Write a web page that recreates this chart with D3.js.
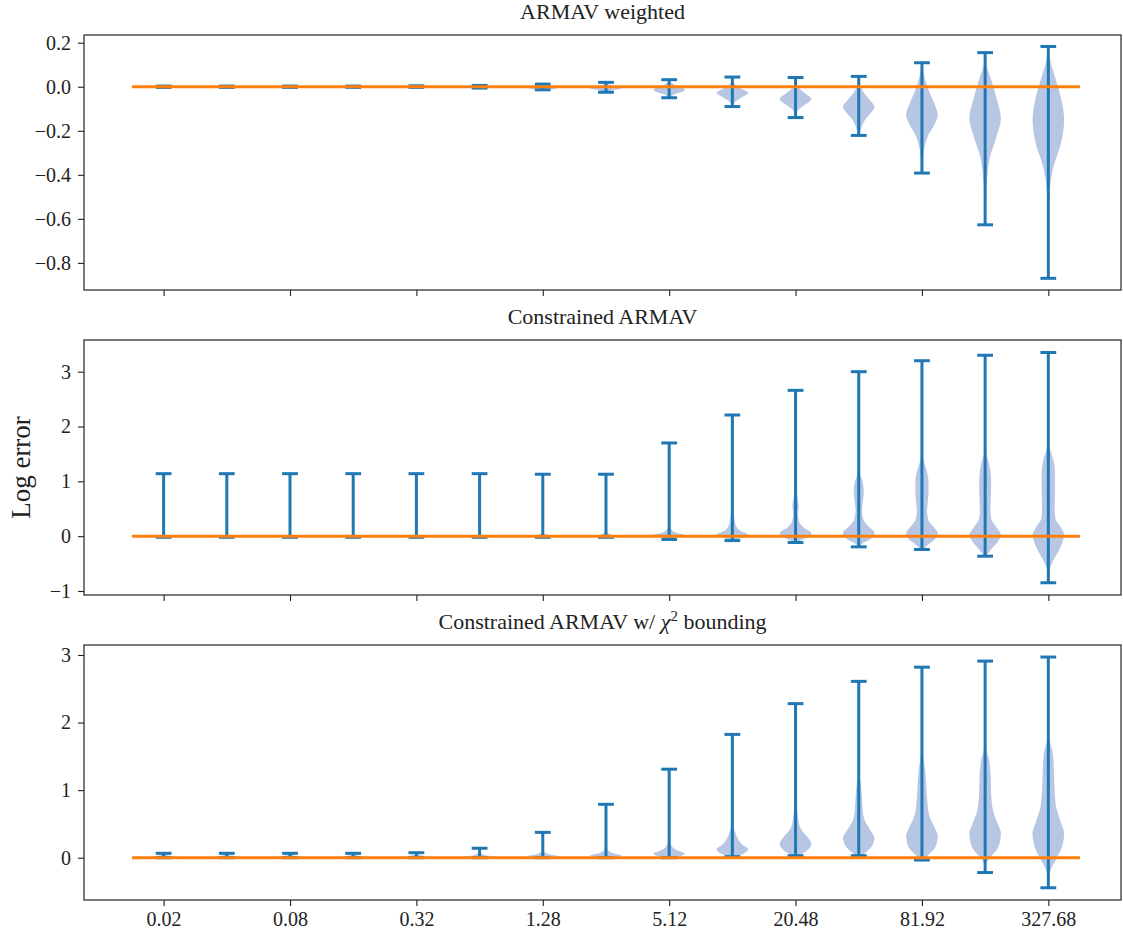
<!DOCTYPE html>
<html>
<head>
<meta charset="utf-8">
<script src="https://cdn.jsdelivr.net/npm/d3@7"></script>
<style>
  body { margin: 0; background: #fff; }
  svg text { font-family: "Liberation Serif", "DejaVu Serif", serif; fill: #222; }
</style>
</head>
<body>
<svg id="chart"></svg>
<script>
// sampling steps on the x axis, one violin each
const steps = [0.02, 0.04, 0.08, 0.16, 0.32, 0.64, 1.28, 2.56, 5.12, 10.24, 20.48, 40.96, 81.92, 163.84, 327.68]
const tickLabels = ["0.02", "0.08", "0.32", "1.28", "5.12", "20.48", "81.92", "327.68"]
const titles = ["ARMAV weighted", "Constrained ARMAV", "Constrained ARMAV w/ χ2 bounding"]

// panel 1 : ARMAV weighted
const weightedMin = [-0.003, -0.003, -0.003, -0.003, -0.003, -0.006, -0.014, -0.025, -0.05, -0.09, -0.14, -0.221, -0.392, -0.627, -0.87]
const weightedMax = [0.003, 0.003, 0.003, 0.003, 0.004, 0.006, 0.012, 0.02, 0.032, 0.044, 0.042, 0.047, 0.109, 0.155, 0.183]
// violin outlines: [value, relative half width]
const weightedShape = [
  [[-0.003, 0.3], [0, 1], [0.003, 0.3]],
  [[-0.003, 0.3], [0, 1], [0.003, 0.3]],
  [[-0.003, 0.3], [0, 1], [0.003, 0.3]],
  [[-0.003, 0.3], [0, 1], [0.003, 0.3]],
  [[-0.003, 0.3], [0, 1], [0.004, 0.3]],
  [[-0.006, 0.3], [0, 1], [0.006, 0.3]],
  [[-0.014, 0.2], [-0.004, 1], [0.004, 0.6], [0.012, 0.1]],
  [[-0.025, 0.05], [-0.015, 0.5], [-0.008, 1], [0, 0.6], [0.01, 0.15], [0.02, 0.02]],
  [[-0.05, 0.03], [-0.035, 0.3], [-0.02, 0.9], [-0.012, 1], [-0.005, 0.8], [0.01, 0.3], [0.032, 0.02]],
  [[-0.09, 0.02], [-0.07, 0.15], [-0.05, 0.55], [-0.026, 1], [-0.01, 0.6], [0.01, 0.15], [0.03, 0.03], [0.044, 0.01]],
  [[-0.14, 0.02], [-0.11, 0.12], [-0.09, 0.45], [-0.056, 1], [-0.03, 0.6], [-0.005, 0.2], [0.02, 0.04], [0.042, 0.01]],
  [[-0.221, 0.02], [-0.19, 0.15], [-0.15, 0.4], [-0.12, 0.75], [-0.092, 1], [-0.06, 0.7], [-0.03, 0.35], [0, 0.12], [0.03, 0.03], [0.047, 0.01]],
  [[-0.392, 0.01], [-0.34, 0.06], [-0.28, 0.15], [-0.22, 0.4], [-0.17, 0.8], [-0.127, 1], [-0.08, 0.8], [-0.03, 0.5], [0.02, 0.25], [0.07, 0.08], [0.109, 0.01]],
  [[-0.627, 0.01], [-0.55, 0.03], [-0.48, 0.06], [-0.4, 0.14], [-0.32, 0.3], [-0.23, 0.7], [-0.142, 1], [-0.06, 0.75], [0.03, 0.4], [0.09, 0.12], [0.155, 0.01]],
  [[-0.87, 0.01], [-0.7, 0.02], [-0.58, 0.04], [-0.5, 0.07], [-0.42, 0.17], [-0.345, 0.4], [-0.27, 0.75], [-0.15, 1], [-0.05, 0.8], [0.05, 0.4], [0.12, 0.12], [0.183, 0.01]]
]

// panel 2 : Constrained ARMAV
const constrainedMin = [-0.02, -0.02, -0.02, -0.02, -0.02, -0.02, -0.02, -0.02, -0.06, -0.08, -0.115, -0.195, -0.243, -0.365, -0.85]
const constrainedMax = [1.14, 1.14, 1.14, 1.14, 1.14, 1.14, 1.13, 1.13, 1.70, 2.21, 2.66, 3.0, 3.2, 3.3, 3.35]
const spikeAtZero = [[-0.02, 0.5], [-0.005, 1], [0.01, 0.5], [0.03, 0.05], [0.1, 0.01], [1.14, 0.005]]
const constrainedShape = [
  spikeAtZero, spikeAtZero, spikeAtZero, spikeAtZero, spikeAtZero, spikeAtZero,
  [[-0.02, 0.4], [0, 1], [0.02, 0.5], [0.06, 0.05], [0.15, 0.01], [1.13, 0.005]],
  [[-0.02, 0.3], [0, 1], [0.03, 0.3], [0.08, 0.05], [0.2, 0.01], [1.13, 0.005]],
  [[-0.06, 0.05], [-0.02, 0.5], [0.02, 1], [0.06, 0.5], [0.1, 0.2], [0.2, 0.06], [0.35, 0.02], [0.6, 0.01], [1.7, 0.005]],
  [[-0.08, 0.15], [-0.03, 0.6], [0.03, 1], [0.1, 0.5], [0.2, 0.22], [0.35, 0.12], [0.5, 0.05], [0.8, 0.015], [1.5, 0.005], [2.21, 0.003]],
  [[-0.115, 0.05], [-0.06, 0.45], [0, 0.9], [0.06, 1], [0.15, 0.55], [0.25, 0.25], [0.4, 0.15], [0.55, 0.2], [0.7, 0.12], [0.85, 0.04], [1.2, 0.01], [2.66, 0.003]],
  [[-0.195, 0.03], [-0.12, 0.3], [-0.05, 0.75], [0.06, 1], [0.18, 0.6], [0.3, 0.3], [0.45, 0.2], [0.6, 0.25], [0.8, 0.32], [0.95, 0.28], [1.1, 0.12], [1.3, 0.03], [2, 0.005], [3.0, 0.003]],
  [[-0.243, 0.05], [-0.15, 0.4], [-0.05, 0.85], [0.05, 1], [0.18, 0.7], [0.3, 0.4], [0.45, 0.32], [0.65, 0.38], [0.85, 0.42], [1.05, 0.4], [1.25, 0.25], [1.45, 0.05], [1.8, 0.01], [3.2, 0.003]],
  [[-0.365, 0.05], [-0.25, 0.35], [-0.12, 0.75], [0.02, 1], [0.15, 0.75], [0.3, 0.4], [0.45, 0.33], [0.7, 0.36], [0.95, 0.38], [1.2, 0.33], [1.4, 0.18], [1.55, 0.04], [2, 0.01], [3.3, 0.003]],
  [[-0.85, 0.01], [-0.65, 0.06], [-0.5, 0.22], [-0.35, 0.5], [-0.18, 0.8], [0.02, 1], [0.18, 0.75], [0.32, 0.45], [0.5, 0.4], [0.8, 0.42], [1.1, 0.43], [1.35, 0.35], [1.55, 0.15], [1.7, 0.03], [2.2, 0.01], [3.35, 0.003]]
]

// panel 3 : Constrained ARMAV w/ chi2 bounding
const boundedMin = [0, 0, 0, 0, 0, 0, 0, 0, 0, 0.015, 0.03, 0.03, -0.035, -0.22, -0.445]
const boundedMax = [0.065, 0.065, 0.065, 0.065, 0.074, 0.14, 0.375, 0.79, 1.31, 1.825, 2.28, 2.61, 2.82, 2.91, 2.97]
const bumpSmall = [[0, 0.6], [0.01, 1], [0.025, 0.5], [0.045, 0.1], [0.065, 0.02]]
const boundedShape = [
  bumpSmall, bumpSmall, bumpSmall, bumpSmall,
  [[0, 0.6], [0.01, 1], [0.025, 0.5], [0.05, 0.1], [0.074, 0.02]],
  [[0, 0.6], [0.015, 1], [0.04, 0.3], [0.08, 0.05], [0.14, 0.01]],
  [[0, 0.5], [0.02, 1], [0.05, 0.4], [0.1, 0.08], [0.2, 0.02], [0.375, 0.005]],
  [[0, 0.5], [0.03, 1], [0.07, 0.4], [0.12, 0.1], [0.25, 0.02], [0.79, 0.005]],
  [[0, 0.3], [0.04, 0.9], [0.065, 1], [0.1, 0.6], [0.16, 0.2], [0.25, 0.06], [0.5, 0.02], [1.31, 0.005]],
  [[0.015, 0.2], [0.06, 0.7], [0.125, 1], [0.2, 0.6], [0.28, 0.35], [0.38, 0.18], [0.46, 0.08], [0.7, 0.02], [1.825, 0.003]],
  [[0.03, 0.15], [0.1, 0.7], [0.21, 1], [0.32, 0.7], [0.42, 0.35], [0.55, 0.18], [0.7, 0.1], [0.85, 0.04], [1.2, 0.01], [2.28, 0.003]],
  [[0.03, 0.15], [0.1, 0.55], [0.2, 0.9], [0.29, 1], [0.4, 0.75], [0.55, 0.38], [0.7, 0.25], [0.9, 0.2], [1.1, 0.13], [1.25, 0.04], [1.6, 0.01], [2.61, 0.003]],
  [[-0.035, 0.05], [0.05, 0.45], [0.18, 0.9], [0.32, 1], [0.45, 0.8], [0.6, 0.5], [0.8, 0.35], [1.05, 0.28], [1.3, 0.2], [1.5, 0.08], [1.7, 0.02], [2.82, 0.003]],
  [[-0.22, 0.01], [-0.1, 0.05], [0, 0.3], [0.12, 0.75], [0.25, 0.95], [0.36, 1], [0.5, 0.8], [0.7, 0.5], [0.95, 0.38], [1.2, 0.35], [1.45, 0.25], [1.6, 0.08], [1.8, 0.02], [2.91, 0.003]],
  [[-0.445, 0.01], [-0.3, 0.04], [-0.15, 0.2], [0, 0.55], [0.15, 0.85], [0.36, 1], [0.55, 0.75], [0.75, 0.5], [1.0, 0.4], [1.3, 0.35], [1.55, 0.28], [1.72, 0.1], [1.9, 0.02], [2.97, 0.003]]
]

const yDomains = [[-0.923, 0.235], [-1.073, 3.578], [-0.626, 3.148]]
const yTicks = [[0.2, 0, -0.2, -0.4, -0.6, -0.8], [3, 2, 1, 0, -1], [3, 2, 1, 0]]
const yFormats = [".1f", "d", "d"]
const reference = 0

const panels = [
  { min: weightedMin, max: weightedMax, shape: weightedShape },
  { min: constrainedMin, max: constrainedMax, shape: constrainedShape },
  { min: boundedMin, max: boundedMax, shape: boundedShape }
]

const W = 1123, H = 935
const margin = { left: 84, right: 2 }
const panelTop = [35, 340, 645]
const panelH = 255
const width = W - margin.left - margin.right
const blue = "#1f77b4", orange = "#ff7f0e", bodyFill = "#b7c7e3"
const serif = '"Liberation Serif", "DejaVu Serif", serif'

const svg = d3.select("#chart").attr("width", W).attr("height", H)

const positions = steps.map((d, i) => i + 1)
const x = d3.scaleLinear().domain([-0.26, 16.15]).range([0, width])
const violinHalf = 0.25, capHalf = 0.125

panels.forEach((panel, k) => {
  const g = svg.append("g").attr("transform", `translate(${margin.left},${panelTop[k]})`)
  const y = d3.scaleLinear().domain(yDomains[k]).range([panelH, 0])

  // axes
  const yAxis = g.append("g")
    .call(d3.axisLeft(y).tickValues(yTicks[k]).tickFormat(d3.format(yFormats[k])).tickSize(6).tickPadding(7))
    .attr("font-family", serif)
  yAxis.select(".domain").remove()
  yAxis.selectAll("line").attr("stroke", "#222").attr("stroke-width", 1.1)
  yAxis.selectAll("text").attr("font-size", 20).attr("fill", "#222")

  const xAxis = g.append("g")
    .attr("transform", `translate(0,${panelH})`)
    .call(d3.axisBottom(x)
      .tickValues(positions.filter((p, i) => i % 2 === 0))
      .tickFormat((p, i) => k === 2 ? tickLabels[i] : "")
      .tickSize(6).tickPadding(6))
    .attr("font-family", serif)
  xAxis.select(".domain").remove()
  xAxis.selectAll("line").attr("stroke", "#222").attr("stroke-width", 1.1)
  xAxis.selectAll("text").attr("font-size", 20).attr("fill", "#222")

  // violin bodies
  const area = d3.area()
    .y(d => y(d[0]))
    .curve(d3.curveMonotoneY)
  g.append("g").selectAll("path")
    .data(panel.shape)
    .join("path")
    .attr("d", (s, i) => area
      .x0(d => x(positions[i] - violinHalf * d[1]))
      .x1(d => x(positions[i] + violinHalf * d[1]))(s))
    .attr("fill", bodyFill)

  // whisker bars and caps
  const bars = g.append("g").attr("stroke", blue).attr("stroke-width", 3)
  bars.selectAll(".bar")
    .data(positions)
    .join("line")
    .attr("class", "bar")
    .attr("x1", p => x(p)).attr("x2", p => x(p))
    .attr("y1", (p, i) => y(panel.min[i])).attr("y2", (p, i) => y(panel.max[i]))
  ;[panel.min, panel.max].forEach(ext => {
    bars.append("g").selectAll("line")
      .data(positions)
      .join("line")
      .attr("x1", p => x(p - capHalf)).attr("x2", p => x(p + capHalf))
      .attr("y1", (p, i) => y(ext[i])).attr("y2", (p, i) => y(ext[i]))
  })

  // zero reference line
  g.append("line")
    .attr("x1", x(positions[0] - 0.5)).attr("x2", x(positions[positions.length - 1] + 0.5))
    .attr("y1", y(reference)).attr("y2", y(reference))
    .attr("stroke", orange).attr("stroke-width", 3)

  // frame
  g.append("rect")
    .attr("width", width).attr("height", panelH)
    .attr("fill", "none").attr("stroke", "#222").attr("stroke-width", 1.2)

  // title
  const t = g.append("text")
    .attr("x", width / 2).attr("y", -16)
    .attr("text-anchor", "middle").attr("font-size", 22)
  if (k === 2) {
    t.append("tspan").text("Constrained ARMAV w/ ")
    t.append("tspan").attr("font-style", "italic").text("χ")
    t.append("tspan").attr("font-size", 15).attr("dy", -8).text("2")
    t.append("tspan").attr("dy", 8).text(" bounding")
  } else {
    t.text(titles[k])
  }
})

svg.append("text")
  .attr("transform", `translate(30,${panelTop[1] + panelH / 2}) rotate(-90)`)
  .attr("text-anchor", "middle")
  .attr("font-size", 27)
  .text("Log error")
</script>
</body>
</html>
